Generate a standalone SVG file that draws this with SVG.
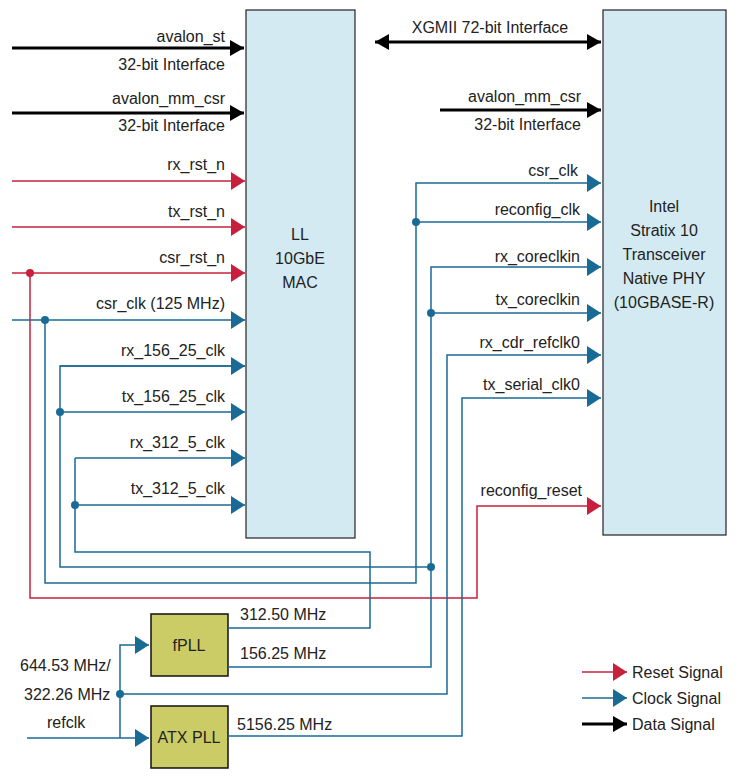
<svg xmlns="http://www.w3.org/2000/svg" width="738" height="780" viewBox="0 0 738 780">
<style>
text{font-family:"Liberation Sans",Arial,sans-serif;font-size:16px;fill:#222}
.r{text-anchor:end}
.c{text-anchor:middle}
.blk{stroke:#000;stroke-width:3;fill:none}
.red{stroke:#c8203c;stroke-width:1.5;fill:none}
.blu{stroke:#1a6a96;stroke-width:1.5;fill:none}
.box{fill:#d4eaf3;stroke:#222;stroke-width:1.2}
.pll{fill:#cccc66;stroke:#111;stroke-width:1.5}
</style>
<defs>
<marker id="ar" markerUnits="userSpaceOnUse" markerWidth="16" markerHeight="18" refX="14" refY="9" orient="auto"><path d="M0,0L14,9L0,18z" fill="#c8203c"/></marker>
<marker id="ab" markerUnits="userSpaceOnUse" markerWidth="16" markerHeight="18" refX="14" refY="9" orient="auto"><path d="M0,0L14,9L0,18z" fill="#1a6a96"/></marker>
<marker id="ak" markerUnits="userSpaceOnUse" markerWidth="16" markerHeight="16" refX="14" refY="8" orient="auto-start-reverse"><path d="M0,0L14,8L0,16z" fill="#000"/></marker>
</defs>
<g id="mac"><rect class="box" x="246" y="10" width="109" height="528"/><text class="c" x="300" y="240">LL</text><text class="c" x="300" y="264">10GbE</text><text class="c" x="300" y="288">MAC</text></g>
<g id="phy"><rect class="box" x="603" y="10" width="123" height="525"/>
<text class="c" x="664" y="212">Intel</text><text class="c" x="664" y="236">Stratix 10</text><text class="c" x="664" y="260">Transceiver</text><text class="c" x="664" y="284">Native PHY</text><text class="c" x="664" y="308">(10GBASE-R)</text></g>
<g id="fpll"><rect class="pll" x="151" y="614" width="77" height="62"/><text class="c" x="189" y="651">fPLL</text></g>
<g id="atxpll"><rect class="pll" x="151" y="706" width="77" height="62"/><text class="c" x="189" y="743">ATX PLL</text></g>
<g id="connectors">
<path class="blk" d="M12,48H244" marker-end="url(#ak)"/>
<path class="blk" d="M12,113H244" marker-end="url(#ak)"/>
<path class="blk" d="M375,42H601" marker-start="url(#ak)" marker-end="url(#ak)"/>
<path class="blk" d="M440,110H601" marker-end="url(#ak)"/>
<path class="red" d="M12,181H245" marker-end="url(#ar)"/>
<path class="red" d="M12,227H245" marker-end="url(#ar)"/>
<path class="red" d="M12,273H245" marker-end="url(#ar)"/>
<path class="red" d="M30,273V598H477V506H601" marker-end="url(#ar)"/>
<path class="blu" d="M12,320H245" marker-end="url(#ab)"/>
<path class="blu" d="M45,320V583H416V183H601" marker-end="url(#ab)"/>
<path class="blu" d="M416,222H601" marker-end="url(#ab)"/>
<path class="blu" d="M245,366H60V567H431" marker-start="none"/>
<path class="blu" d="M60,366H245" marker-end="url(#ab)"/>
<path class="blu" d="M60,412H245" marker-end="url(#ab)"/>
<path class="blu" d="M75,458H245" marker-end="url(#ab)"/>
<path class="blu" d="M75,458V552H370V628H228"/>
<path class="blu" d="M75,505H245" marker-end="url(#ab)"/>
<path class="blu" d="M228,667H431V267H601" marker-end="url(#ab)"/>
<path class="blu" d="M431,313H601" marker-end="url(#ab)"/>
<path class="blu" d="M27,738H149" marker-end="url(#ab)"/>
<path class="blu" d="M120,738V645H149" marker-end="url(#ab)"/>
<path class="blu" d="M120,694H447V355H601" marker-end="url(#ab)"/>
<path class="blu" d="M228,736H462V398H601" marker-end="url(#ab)"/>
<g fill="#c8203c"><circle cx="30" cy="273" r="4"/></g>
<g fill="#1a6a96"><circle cx="45" cy="320" r="4"/><circle cx="60" cy="412" r="4"/><circle cx="75" cy="505" r="4"/><circle cx="416" cy="222" r="4"/><circle cx="431" cy="313" r="4"/><circle cx="431" cy="567" r="4"/><circle cx="120" cy="694" r="4"/></g>
</g>
<g id="labels">
<text class="r" x="225" y="42">avalon_st</text><text class="r" x="225" y="70">32-bit Interface</text>
<text class="r" x="225" y="104">avalon_mm_csr</text><text class="r" x="225" y="131">32-bit Interface</text>
<text class="r" x="225" y="170">rx_rst_n</text><text class="r" x="225" y="217">tx_rst_n</text><text class="r" x="225" y="263">csr_rst_n</text>
<text class="r" x="225" y="309">csr_clk (125 MHz)</text><text class="r" x="225" y="356">rx_156_25_clk</text><text class="r" x="225" y="402">tx_156_25_clk</text>
<text class="r" x="225" y="448">rx_312_5_clk</text><text class="r" x="225" y="494">tx_312_5_clk</text>
<text class="c" x="490" y="33">XGMII 72-bit Interface</text>
<text class="r" x="581" y="102">avalon_mm_csr</text><text class="r" x="581" y="130">32-bit Interface</text>
<text class="r" x="578" y="176">csr_clk</text><text class="r" x="580" y="215">reconfig_clk</text><text class="r" x="580" y="262">rx_coreclkin</text>
<text class="r" x="580" y="305">tx_coreclkin</text><text class="r" x="580" y="348">rx_cdr_refclk0</text><text class="r" x="580" y="390">tx_serial_clk0</text>
<text class="r" x="582" y="496">reconfig_reset</text>
<text x="240" y="620">312.50 MHz</text><text x="240" y="659">156.25 MHz</text><text x="237" y="730">5156.25 MHz</text>
<text x="20" y="671">644.53 MHz/</text><text x="24" y="700">322.26 MHz</text><text x="47" y="728">refclk</text>
</g>
<g id="legend">
<path class="red" d="M582,672H627" marker-end="url(#ar)"/><text x="632" y="678">Reset Signal</text>
<path class="blu" d="M582,698H627" marker-end="url(#ab)"/><text x="632" y="704">Clock Signal</text>
<path class="blk" stroke-width="2" d="M582,724H627" marker-end="url(#ak)"/><text x="632" y="730">Data Signal</text>
</g>
</svg>
